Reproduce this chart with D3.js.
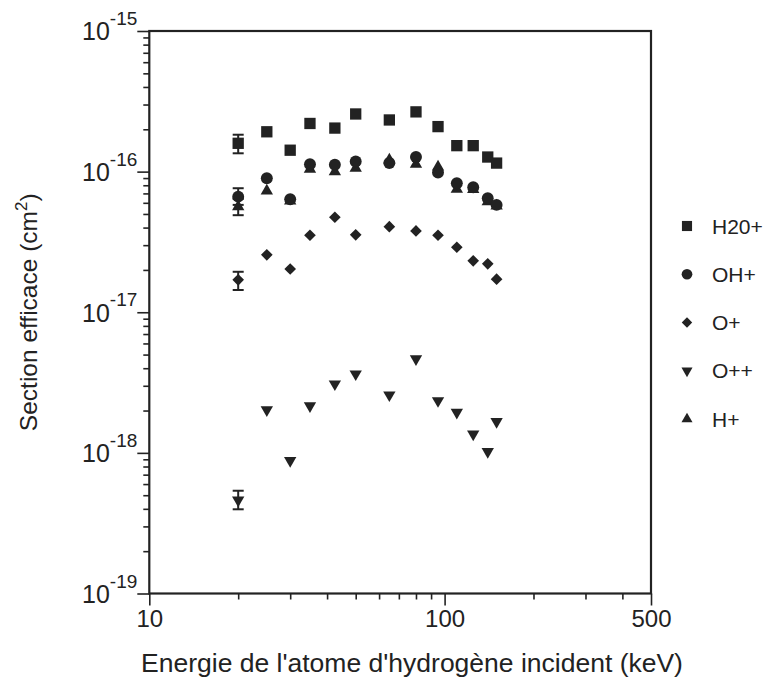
<!DOCTYPE html>
<html>
<head>
<meta charset="utf-8">
<script src="https://cdn.jsdelivr.net/npm/d3@7"></script>
<style>
  html, body { margin: 0; padding: 0; background: #fff; }
  svg { display: block; }
  text { font-family: "Liberation Sans", Arial, sans-serif; fill: #222; }
</style>
</head>
<body>
<svg id="chart" width="778" height="681"></svg>
<script>
// ---- data ----
const energies = [20, 25, 30, 35, 42.5, 50, 65, 80, 95, 110, 125, 140, 150];
const h2oPlus = [1.59e-16, 1.92e-16, 1.42e-16, 2.20e-16, 2.04e-16, 2.57e-16, 2.33e-16, 2.66e-16, 2.09e-16, 1.53e-16, 1.53e-16, 1.27e-16, 1.15e-16];
const ohPlus  = [6.64e-17, 8.97e-17, 6.37e-17, 1.13e-16, 1.12e-16, 1.18e-16, 1.15e-16, 1.27e-16, 9.84e-17, 8.27e-17, 7.74e-17, 6.47e-17, 5.80e-17];
const oPlus   = [1.70e-17, 2.56e-17, 2.03e-17, 3.53e-17, 4.74e-17, 3.55e-17, 4.06e-17, 3.79e-17, 3.53e-17, 2.90e-17, 2.32e-17, 2.21e-17, 1.72e-17];
const oPlusPlus = [4.62e-19, 2.02e-18, 8.80e-19, 2.16e-18, 3.09e-18, 3.64e-18, 2.58e-18, 4.66e-18, 2.35e-18, 1.94e-18, 1.36e-18, 1.02e-18, 1.67e-18];
const hPlus   = [5.64e-17, 7.29e-17, 6.19e-17, 1.04e-16, 1.00e-16, 1.06e-16, 1.21e-16, 1.13e-16, 1.08e-16, 7.50e-17, 7.48e-17, 6.12e-17, 5.70e-17];

// error bars (only at 20 keV): [energy, low, high]
const errH2O  = [20, 1.35e-16, 1.83e-16];
const errOH   = [20, 5.8e-17, 7.62e-17];
const errH    = [20, 4.90e-17, 6.4e-17];
const errO    = [20, 1.44e-17, 1.94e-17];
const errO2   = [20, 3.97e-19, 5.38e-19];

const seriesNames = ["H20+", "OH+", "O+", "O++", "H+"];
const xMajorTicks = [10, 100, 500];
const xMinorTicks = [20, 30, 40, 50, 60, 70, 80, 90, 200, 300, 400];
const yMajorTicks = [1e-19, 1e-18, 1e-17, 1e-16, 1e-15];
const yExponents = ["-19", "-18", "-17", "-16", "-15"];
const xTitle = "Energie de l'atome d'hydrogène incident (keV)";
const yTitle = "Section efficace (cm";

// ---- layout ----
const svg = d3.select("#chart");
const mLeft = 149.3, mRight = 651, mTop = 31, mBottom = 593.5;
const ink = "#222";
const font = '"Liberation Sans", Arial, sans-serif';

const x = d3.scaleLog().domain([10, 500]).range([mLeft, mRight]);
const y = d3.scaleLog().domain([1e-19, 1e-15]).range([mBottom, mTop]);

const yMinorTicks = [];
yMajorTicks.slice(0, -1).forEach(m => { for (let k = 2; k <= 9; k++) yMinorTicks.push(m * k); });

// axes
function styleAxis(g) {
  g.select(".domain").remove();
  g.selectAll(".tick line").attr("stroke", ink).attr("stroke-width", 1.6);
}
svg.append("g").attr("transform", `translate(0,${mBottom})`)
  .call(d3.axisBottom(x).tickValues(xMinorTicks).tickSize(6).tickFormat(""))
  .call(styleAxis);
svg.append("g").attr("transform", `translate(0,${mBottom})`)
  .call(d3.axisBottom(x).tickValues(xMajorTicks).tickSize(12).tickFormat(d3.format("d")))
  .call(styleAxis)
  .call(g => g.selectAll(".tick text").attr("font-size", 24).attr("fill", ink)
    .attr("font-family", font).attr("y", 33).attr("dy", 0));

svg.append("g").attr("transform", `translate(${mLeft},0)`)
  .call(d3.axisLeft(y).tickValues(yMinorTicks).tickSize(6).tickFormat(""))
  .call(styleAxis);
svg.append("g").attr("transform", `translate(${mLeft},0)`)
  .call(d3.axisLeft(y).tickValues(yMajorTicks).tickSize(12).tickFormat(""))
  .call(styleAxis)
  .call(g => g.selectAll(".tick").each(function(d, i) {
    const t = d3.select(this).select("text")
      .attr("font-size", 25).attr("fill", ink)
      .attr("font-family", font)
      .attr("x", -12).attr("dy", "0.35em").attr("text-anchor", "end");
    t.append("tspan").text("10");
    t.append("tspan").attr("font-size", 19).attr("dy", "-0.8em").text(yExponents[i]);
  }));

// frame
svg.append("rect").attr("x", mLeft).attr("y", mTop)
  .attr("width", mRight - mLeft).attr("height", mBottom - mTop)
  .attr("fill", "none").attr("stroke", ink).attr("stroke-width", 2.2);

// titles
svg.append("text").attr("x", 412).attr("y", 672)
  .attr("text-anchor", "middle").attr("font-size", 26.5).text(xTitle);
const yt = svg.append("text").attr("transform", `translate(37,${(mTop + mBottom) / 2}) rotate(-90)`)
  .attr("text-anchor", "middle").attr("font-size", 24.5);
yt.append("tspan").text(yTitle);
yt.append("tspan").attr("font-size", 17).attr("dy", "-0.6em").text("2");
yt.append("tspan").attr("dy", "0.42em").text(")");

// symbols
const sym = {
  "H20+": { type: d3.symbolSquare, size: 128, rot: 0 },
  "OH+":  { type: d3.symbolCircle, size: 112, rot: 0 },
  "O+":   { type: d3.symbolSquare, size: 68, rot: 45 },
  "O++":  { type: d3.symbolTriangle, size: 66, rot: 180 },
  "H+":   { type: d3.symbolTriangle, size: 66, rot: 0 }
};
const seriesData = {
  "H20+": h2oPlus, "OH+": ohPlus, "O+": oPlus, "O++": oPlusPlus, "H+": hPlus
};
const errs = [errH2O, errOH, errH, errO, errO2];

// error bars
const eg = svg.append("g").attr("stroke", ink).attr("stroke-width", 2);
errs.forEach(e => {
  const ex = x(e[0]);
  eg.append("line").attr("x1", ex).attr("x2", ex).attr("y1", y(e[1])).attr("y2", y(e[2]));
  [e[1], e[2]].forEach(v => eg.append("line")
    .attr("x1", ex - 5.5).attr("x2", ex + 5.5).attr("y1", y(v)).attr("y2", y(v)));
});

// points
["H+", "O++", "O+", "H20+", "OH+"].forEach(name => {
  const s = sym[name];
  const path = d3.symbol().type(s.type).size(s.size)();
  svg.append("g").selectAll("path").data(energies.map((e, i) => [e, seriesData[name][i]]))
    .join("path")
    .attr("d", path)
    .attr("fill", ink)
    .attr("transform", d => `translate(${x(d[0])},${y(d[1])}) rotate(${s.rot})`);
});

// legend
const legY = d3.scalePoint().domain(seriesNames).range([226, 419]);
const lg = svg.append("g");
seriesNames.forEach(name => {
  const s = sym[name];
  lg.append("path").attr("d", d3.symbol().type(s.type).size(s.size * 0.8)())
    .attr("fill", ink)
    .attr("transform", `translate(687,${legY(name)}) rotate(${s.rot})`);
  lg.append("text").attr("x", 712).attr("y", legY(name)).attr("dy", "0.36em")
    .attr("font-size", 21).text(name);
});
</script>
</body>
</html>
